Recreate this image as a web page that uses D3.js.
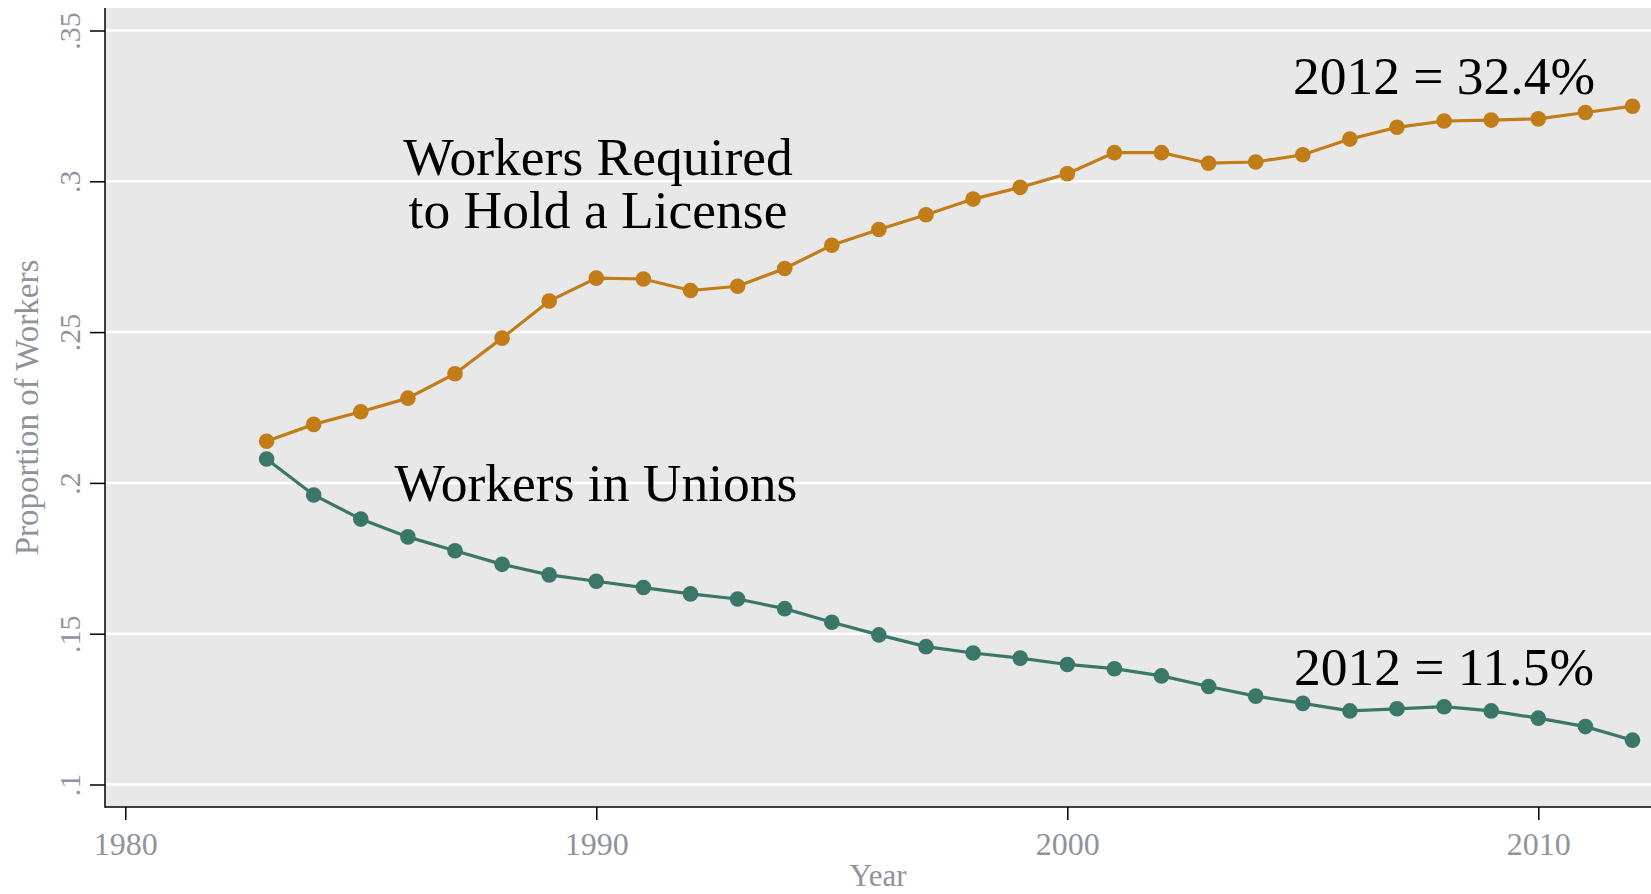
<!DOCTYPE html>
<html>
<head>
<meta charset="utf-8">
<script src="https://cdn.jsdelivr.net/npm/d3@7"></script>
<style>
  html, body { margin: 0; padding: 0; background: #fff; }
  svg { display: block; font-family: 'Liberation Serif', 'Times New Roman', serif; }
  .axis path { display: none; }
  .axis line { stroke: #000; stroke-width: 1.5; }
  .axis text { fill: #8e939c; font-size: 30px; font-family: 'Liberation Serif', 'Times New Roman', serif; }
  .axis.x text { font-size: 32px; }
  .note { fill: #000; font-size: 53.5px; text-anchor: middle; }
</style>
</head>
<body>
<div class="chart"></div>
<script>
const width = 1651;
const height = 894;

const years = d3.range(1983, 2013);
const licensed = [
  0.2138, 0.2194, 0.2236, 0.2281, 0.2362, 0.2480, 0.2603, 0.2679, 0.2676, 0.2638,
  0.2652, 0.2711, 0.2788, 0.2840, 0.2889, 0.2941, 0.2980, 0.3025, 0.3095, 0.3095,
  0.3060, 0.3064, 0.3088, 0.3140, 0.3179, 0.3200, 0.3203, 0.3207, 0.3228, 0.3249
];
const unions = [
  0.2079, 0.1960, 0.1880, 0.1821, 0.1775, 0.1730, 0.1695, 0.1674, 0.1653, 0.1632,
  0.1615, 0.1583, 0.1538, 0.1496, 0.1457, 0.1436, 0.1419, 0.1398, 0.1384, 0.1360,
  0.1325, 0.1293, 0.1269, 0.1244, 0.1251, 0.1258, 0.1244, 0.1220, 0.1192, 0.1147
];
const xTicks = [1980, 1990, 2000, 2010];
const yTicks = [0.1, 0.15, 0.2, 0.25, 0.3, 0.35];
const yTickLabels = ['.1', '.15', '.2', '.25', '.3', '.35'];

const color = {
  licensed: '#c27c18',
  unions: '#3a7768',
  plot: '#e8e8e8',
  grid: '#ffffff',
};

const plot = { left: 105, top: 8, right: 1651, bottom: 807 };

const x = d3.scaleLinear().domain([1980, 2010]).range([125.3, 1538.3]);
const y = d3.scaleLinear().domain([0.1, 0.35]).range([784.5, 30.5]);

const svg = d3.select('.chart')
  .append('svg')
    .attr('width', width)
    .attr('height', height)
    .attr('viewBox', [0, 0, width, height]);

svg.append('rect')
  .attr('x', plot.left)
  .attr('y', plot.top)
  .attr('width', plot.right - plot.left)
  .attr('height', plot.bottom - plot.top)
  .attr('fill', color.plot);

// grid
svg.append('g')
  .selectAll('line')
  .data(yTicks)
  .enter().append('line')
    .attr('x1', plot.left)
    .attr('x2', plot.right)
    .attr('y1', d => y(d))
    .attr('y2', d => y(d))
    .attr('stroke', color.grid)
    .attr('stroke-width', 2.5);

// series
const series = [
  { values: licensed, color: color.licensed },
  { values: unions, color: color.unions },
];

const line = d3.line()
  .x((d, i) => x(years[i]))
  .y(d => y(d));

series.forEach(s => {
  svg.append('path')
    .datum(s.values)
    .attr('d', line)
    .attr('fill', 'none')
    .attr('stroke', s.color)
    .attr('stroke-width', 3.2);

  svg.append('g')
    .selectAll('circle')
    .data(s.values)
    .enter().append('circle')
      .attr('cx', (d, i) => x(years[i]))
      .attr('cy', d => y(d))
      .attr('r', 7.8)
      .attr('fill', s.color);
});

// axes
const xAxis = svg.append('g')
  .attr('class', 'axis x')
  .attr('transform', `translate(0, ${plot.bottom})`)
  .call(d3.axisBottom(x).tickValues(xTicks).tickFormat(d3.format('d')).tickSize(13).tickPadding(12));

xAxis.attr('font-family', null).attr('font-size', null);
xAxis.selectAll('text').attr('dy', '0.71em');

const yAxis = svg.append('g')
  .attr('class', 'axis y')
  .attr('transform', `translate(${plot.left}, 0)`)
  .call(d3.axisLeft(y).tickValues(yTicks).tickFormat((d, i) => yTickLabels[i]).tickSize(15));

yAxis.attr('font-family', null).attr('font-size', null);
yAxis.selectAll('text')
  .attr('transform', 'rotate(-90)')
  .attr('text-anchor', 'middle')
  .attr('x', 0)
  .attr('y', -25)
  .attr('dy', 0);

svg.append('line')
  .attr('x1', plot.left)
  .attr('x2', plot.left)
  .attr('y1', plot.top)
  .attr('y2', plot.bottom + 0.75)
  .attr('stroke', '#000')
  .attr('stroke-width', 1.5);

svg.append('line')
  .attr('x1', plot.left)
  .attr('x2', plot.right)
  .attr('y1', plot.bottom)
  .attr('y2', plot.bottom)
  .attr('stroke', '#000')
  .attr('stroke-width', 1.5);

// axis titles
svg.append('text')
  .attr('x', (plot.left + plot.right) / 2)
  .attr('y', 886)
  .attr('text-anchor', 'middle')
  .attr('fill', '#8e939c')
  .attr('font-size', 31)
  .text('Year');

svg.append('text')
  .attr('transform', `translate(38, ${(plot.top + plot.bottom) / 2}) rotate(-90)`)
  .attr('text-anchor', 'middle')
  .attr('fill', '#8e939c')
  .attr('font-size', 33)
  .text('Proportion of Workers');

// annotations (multi-line ones as tspans)
const notes = [
  { lines: ['Workers Required', 'to Hold a License'], x: 598, y: 175 },
  { lines: ['Workers in Unions'], x: 596, y: 501 },
  { lines: ['2012 = 32.4%'], x: 1444, y: 94 },
  { lines: ['2012 = 11.5%'], x: 1444, y: 685 },
];

svg.append('g')
  .selectAll('text')
  .data(notes)
  .enter().append('text')
    .attr('class', 'note')
    .attr('x', d => d.x)
    .attr('y', d => d.y)
  .selectAll('tspan')
  .data(d => d.lines.map((t, i) => ({ t, i, x: d.x })))
  .enter().append('tspan')
    .attr('x', d => d.x)
    .attr('dy', d => d.i ? 53 : 0)
    .text(d => d.t);
</script>
</body>
</html>
